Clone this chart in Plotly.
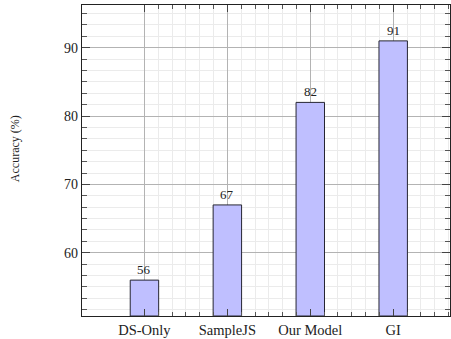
import plotly.graph_objects as go

categories = ["DS-Only", "SampleJS", "Our Model", "GI"]
accuracy = [56, 67, 82, 91]
y_ticks = [60, 70, 80, 90]

x_pos = list(range(len(categories)))
x_range = [-0.753, 3.685]
y_range = [50.75, 96.25]

# minor x ticks: five between categories, and after the last one
minor_x = [i / 6 for i in range(1, int(x_range[1] * 6) + 1) if i % 6 != 0]

FONT = "Liberation Serif, Times New Roman, serif"

fig = go.Figure()
fig.add_trace(go.Bar(
    x=x_pos, y=[v - y_range[0] for v in accuracy], base=y_range[0], width=0.343,
    marker=dict(color="#bfbfff", line=dict(color="#262633", width=1)),
    hoverinfo="skip",
))
for xp, v in zip(x_pos, accuracy):
    fig.add_annotation(
        x=xp, y=v, text=str(v), showarrow=False, yanchor="bottom", yshift=1,
        font=dict(family=FONT, size=13, color="#222"),
    )

fig.update_layout(
    width=451, height=339,
    margin=dict(l=82, r=1, t=5, b=23, autoexpand=False),
    plot_bgcolor="white", paper_bgcolor="white",
    showlegend=False,
    font=dict(family=FONT, size=14, color="#222"),
)
fig.update_xaxes(
    range=x_range, tickmode="array", tickvals=x_pos, ticktext=categories,
    ticks="inside", ticklen=7, tickcolor="#444", tickwidth=1,
    showline=True, linecolor="#222", linewidth=1.2, mirror="allticks",
    showgrid=True, gridcolor="#b3b3b3", gridwidth=1.2,
    zeroline=False, automargin=False,
    tickfont=dict(family=FONT, size=14.5, color="#222"),
    minor=dict(tickmode="array", tickvals=minor_x, ticks="inside", ticklen=4,
               tickcolor="#555", showgrid=True, gridcolor="#ebebeb", gridwidth=1),
)
fig.update_yaxes(
    range=y_range, tickmode="array", tickvals=y_ticks,
    ticks="inside", ticklen=8, tickcolor="#444", tickwidth=1,
    showline=True, linecolor="#222", linewidth=1.2, mirror="allticks",
    showgrid=True, gridcolor="#b3b3b3", gridwidth=1.2,
    zeroline=False, automargin=False,
    tickfont=dict(family=FONT, size=14, color="#222"),
    minor=dict(tickmode="linear", tick0=0, dtick=10 / 6, ticks="inside", ticklen=5,
               tickcolor="#555", showgrid=True, gridcolor="#ebebeb", gridwidth=1),
)
fig.add_annotation(
    text="Accuracy (%)", textangle=-90, xref="paper", yref="paper",
    x=-(82 - 15) / 368, y=(315.7 - 149) / 310.7, xanchor="center", yanchor="middle",
    showarrow=False, font=dict(family=FONT, size=12, color="#222"),
)
fig.write_html(
    "out.html",
    config={"displayModeBar": False},
    post_script="document.body.style.margin='0';document.body.style.overflow='hidden';",
)
